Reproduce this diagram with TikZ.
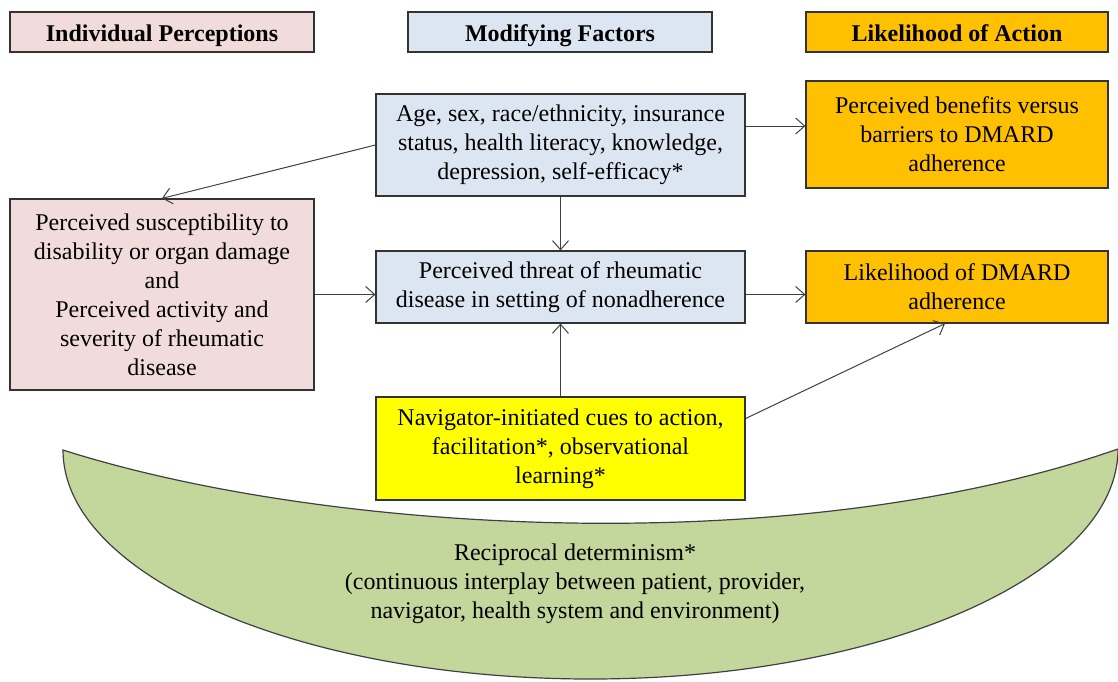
\documentclass[tikz,border=0pt]{standalone}
\usepackage{fontspec}
\setmainfont{Liberation Serif}
\usepackage{xcolor}
\usepackage{tikz}
\usetikzlibrary{arrows.meta}
\definecolor{percc}{HTML}{F2DCDB}
\definecolor{modc}{HTML}{DCE6F2}
\definecolor{actc}{HTML}{FFC000}
\definecolor{navc}{HTML}{FFFF00}
\definecolor{recc}{HTML}{C3D69B}

\begin{document}
\begin{tikzpicture}[x=0.5pt, y=-0.5pt, font=\fontsize{12}{14.5}\selectfont,
  box/.style={draw=black!80, line width=0.6pt, align=center, inner sep=0pt},
  head/.style={box, minimum width=152pt, minimum height=20pt, text height=10pt, text depth=1pt, font=\fontsize{12}{14.5}\selectfont\bfseries},
  arr/.style={-{Straight Barb[length=4.5pt,width=8pt]}, draw=black!75, line width=0.5pt}]
  \useasboundingbox (0,0) rectangle (1118,681);
  \draw[draw=black!75, line width=0.6pt, fill=recc] (63,450) .. controls (330,535) and (800,560) .. (1118,449)
    .. controls (1118,576) and (881.8,679) .. (590.5,679) .. controls (299.2,679) and (63,576) .. (63,450) -- cycle;
  \node[align=center] (recip) at (575,584) {Reciprocal determinism*\\(continuous interplay between patient, provider,\\navigator, health system and environment)};

  \node[head, fill=percc] (hperc) at (162,32) {Individual Perceptions};
  \node[head, fill=modc] (hmod) at (560,32) {Modifying Factors};
  \node[head, fill=actc, minimum width=151pt] (hact) at (957,32) {Likelihood of Action};

  \node[box, fill=modc, minimum width=184.5pt, minimum height=51pt] (age) at (560.5,145) {Age, sex, race/ethnicity, insurance\\status, health literacy, knowledge,\\depression, self-efficacy*};
  \node[box, fill=actc, minimum width=151pt, minimum height=53.5pt] (benefit) at (957,134.5) {Perceived benefits versus\\barriers to DMARD\\adherence};
  \node[box, fill=percc, minimum width=152pt, minimum height=95.5pt] (suscept) at (162,294.5) {Perceived susceptibility to\\disability or organ damage\\and\\Perceived activity and\\severity of rheumatic\\disease};
  \node[box, fill=modc, minimum width=184.5pt, minimum height=36pt] (threat) at (560.5,287) {Perceived threat of rheumatic\\disease in setting of nonadherence};
  \node[box, fill=actc, minimum width=151pt, minimum height=36pt] (dmard) at (957,287) {Likelihood of DMARD\\adherence};
  \node[box, fill=navc, minimum width=184.5pt, minimum height=51.5pt] (nav) at (560.5,448.5) {Navigator-initiated cues to action,\\facilitation*, observational\\learning*};

  \draw[arr] (age.west) -- (suscept.north);
  \draw[arr] ([yshift=9.5pt]age.east) -- ([yshift=9.5pt]age.east -| benefit.west);
  \draw[arr] (age.south) -- (threat.north);
  \draw[arr] (suscept.east) -- (suscept.east -| threat.west);
  \draw[arr] (threat.east |- suscept.east) -- (dmard.west |- suscept.east);
  \draw[arr] (nav.north) -- (threat.south);
  \draw[arr] ([yshift=15pt]nav.east) -- ([xshift=-6pt]dmard.south);
\end{tikzpicture}
\end{document}
